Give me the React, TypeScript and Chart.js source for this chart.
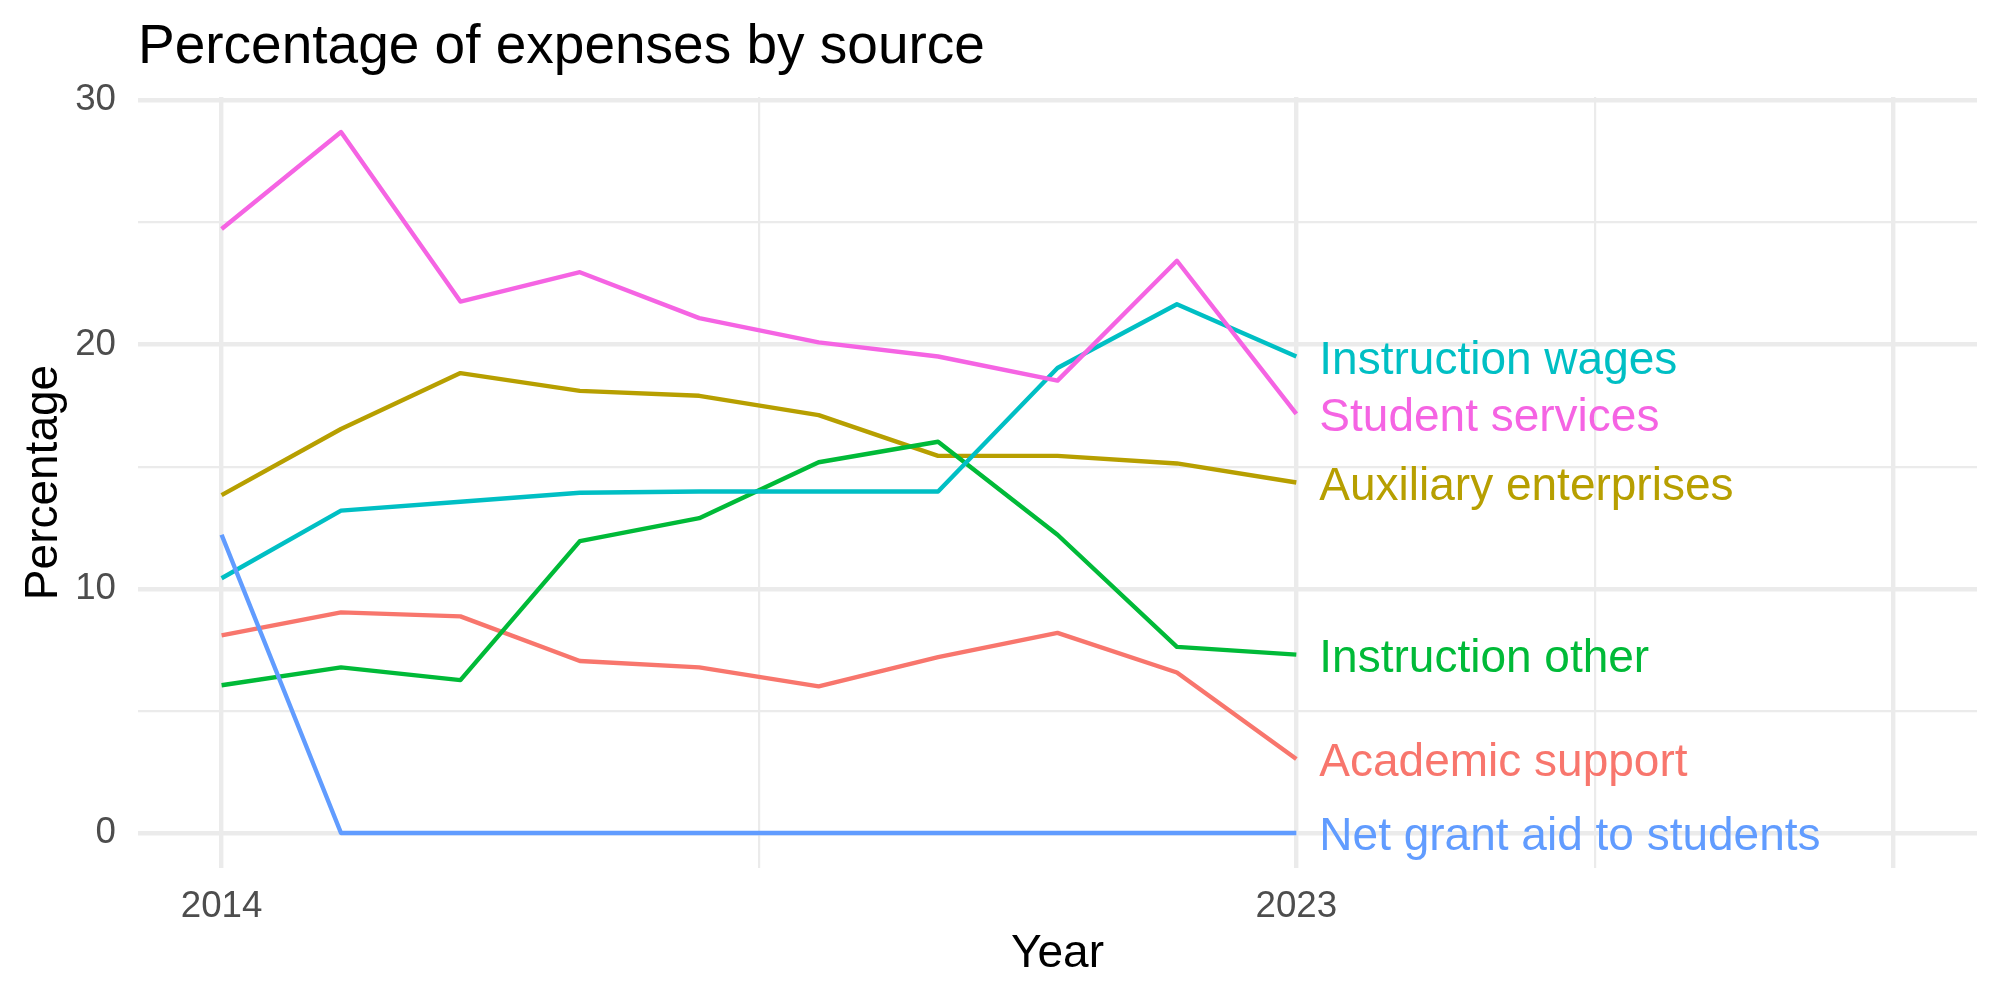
import { useEffect, useRef } from "react";
import { Chart, registerables } from "chart.js";

Chart.register(...registerables);

// Fiscal years on the x axis
const years = [2014, 2015, 2016, 2017, 2018, 2019, 2020, 2021, 2022, 2023];

// Share of total expenses (%) per category
const academicSupport = [8.09, 9.03, 8.87, 7.04, 6.78, 6.0, 7.2, 8.19, 6.57, 3.03];
const auxiliaryEnterprises = [13.83, 16.54, 18.83, 18.1, 17.9, 17.11, 15.44, 15.44, 15.13, 14.35];
const instructionOther = [6.05, 6.78, 6.26, 11.95, 12.89, 15.18, 16.02, 12.21, 7.62, 7.3];
const instructionWages = [10.43, 13.2, 13.56, 13.93, 13.98, 13.98, 13.98, 19.04, 21.65, 19.51];
const netGrantAid = [12.21, 0, 0, 0, 0, 0, 0, 0, 0, 0];
const studentServices = [24.73, 28.7, 21.76, 22.96, 21.08, 20.09, 19.51, 18.52, 23.43, 17.16];

const seriesNames = [
  "Academic support",
  "Auxiliary enterprises",
  "Instruction other",
  "Instruction wages",
  "Net grant aid to students",
  "Student services",
];
const seriesValues = [
  academicSupport,
  auxiliaryEnterprises,
  instructionOther,
  instructionWages,
  netGrantAid,
  studentServices,
];
const seriesColors = ["#F8766D", "#B79F00", "#00BA38", "#00BFC4", "#619CFF", "#F564E3"];

// Axis breaks
const xGridMajor = [2014, 2023, 2028];
const xGridMinor = [2018.5, 2025.5];
const xTickLabels = [2014, 2023];
const yGridMajor = [0, 10, 20, 30];
const yGridMinor = [5, 15, 25];

const FONT = "'Liberation Sans', Arial, Helvetica, sans-serif";

const textPlugin = {
  id: "ggText",
  afterDraw(chart: any) {
    const { ctx, chartArea, scales } = chart;
    const xs = scales.x;
    const ys = scales.y;
    ctx.save();

    // Title
    ctx.fillStyle = "#000000";
    ctx.font = `55px ${FONT}`;
    ctx.textAlign = "left";
    ctx.textBaseline = "alphabetic";
    ctx.fillText("Percentage of expenses by source", chartArea.left, 63);

    // Axis titles
    ctx.font = `46px ${FONT}`;
    ctx.textAlign = "center";
    ctx.fillText("Year", (chartArea.left + chartArea.right) / 2, 967);
    ctx.save();
    ctx.translate(57, (chartArea.top + chartArea.bottom) / 2);
    ctx.rotate(-Math.PI / 2);
    ctx.fillText("Percentage", 0, 0);
    ctx.restore();

    // End-of-line labels
    ctx.font = `46px ${FONT}`;
    ctx.textAlign = "left";
    const lastYear = years[years.length - 1];
    seriesNames.forEach((name, i) => {
      const vals = seriesValues[i];
      const px = xs.getPixelForValue(lastYear) + 23;
      const py = ys.getPixelForValue(vals[vals.length - 1]) + 17.5;
      ctx.fillStyle = seriesColors[i];
      ctx.fillText(name, px, py);
    });
    ctx.restore();
  },
};

export default function App() {
  const canvasRef = useRef<HTMLCanvasElement | null>(null);

  useEffect(() => {
    if (!canvasRef.current) return;
    const chart = new Chart(canvasRef.current, {
      type: "line",
      data: {
        datasets: seriesNames.map((name, i) => ({
          label: name,
          data: years.map((yr, j) => ({ x: yr, y: seriesValues[i][j] })),
          borderColor: seriesColors[i],
          backgroundColor: seriesColors[i],
          borderWidth: 4.4,
          borderJoinStyle: "round" as const,
          borderCapStyle: "butt" as const,
          pointRadius: 0,
          tension: 0,
          fill: false,
          order: seriesNames.length - i,
        })),
      },
      options: {
        responsive: false,
        animation: false,
        devicePixelRatio: 1,
        layout: { padding: { top: 97, right: 23, bottom: 0, left: 0 } },
        plugins: {
          legend: { display: false },
          tooltip: { enabled: false },
          title: { display: false },
        },
        scales: {
          x: {
            type: "linear",
            min: 2013.3,
            max: 2028.7,
            afterBuildTicks: (scale: any) => {
              scale.ticks = [...xGridMajor, ...xGridMinor]
                .sort((a, b) => a - b)
                .map((v) => ({ value: v }));
            },
            afterFit: (scale: any) => {
              scale.height = 132;
            },
            border: { display: false },
            grid: {
              color: "#EBEBEB",
              drawTicks: false,
              lineWidth: (ctx: any) =>
                ctx.tick && xGridMajor.includes(ctx.tick.value) ? 4.4 : 2.2,
            },
            ticks: {
              autoSkip: false,
              maxRotation: 0,
              minRotation: 0,
              padding: 17,
              color: "#4D4D4D",
              font: { family: FONT, size: 36.7 },
              callback: (v: any) => (xTickLabels.includes(Number(v)) ? String(v) : ""),
            },
          },
          y: {
            type: "linear",
            min: -1.435,
            max: 30.135,
            afterBuildTicks: (scale: any) => {
              scale.ticks = [...yGridMajor, ...yGridMinor]
                .sort((a, b) => a - b)
                .map((v) => ({ value: v }));
            },
            afterFit: (scale: any) => {
              scale.width = 138;
            },
            border: { display: false },
            grid: {
              color: "#EBEBEB",
              drawTicks: false,
              lineWidth: (ctx: any) =>
                ctx.tick && yGridMajor.includes(ctx.tick.value) ? 4.4 : 2.2,
            },
            ticks: {
              autoSkip: false,
              padding: 22,
              color: "#4D4D4D",
              font: { family: FONT, size: 36.7 },
              callback: (v: any) => (yGridMajor.includes(Number(v)) ? String(v) : ""),
            },
          },
        },
      },
      plugins: [textPlugin],
    });
    return () => chart.destroy();
  }, []);

  return (
    <div style={{ position: "absolute", left: 0, top: 0, width: 2000, height: 1000, background: "#FFFFFF" }}>
      <canvas ref={canvasRef} width={2000} height={1000} style={{ display: "block" }} />
    </div>
  );
}
